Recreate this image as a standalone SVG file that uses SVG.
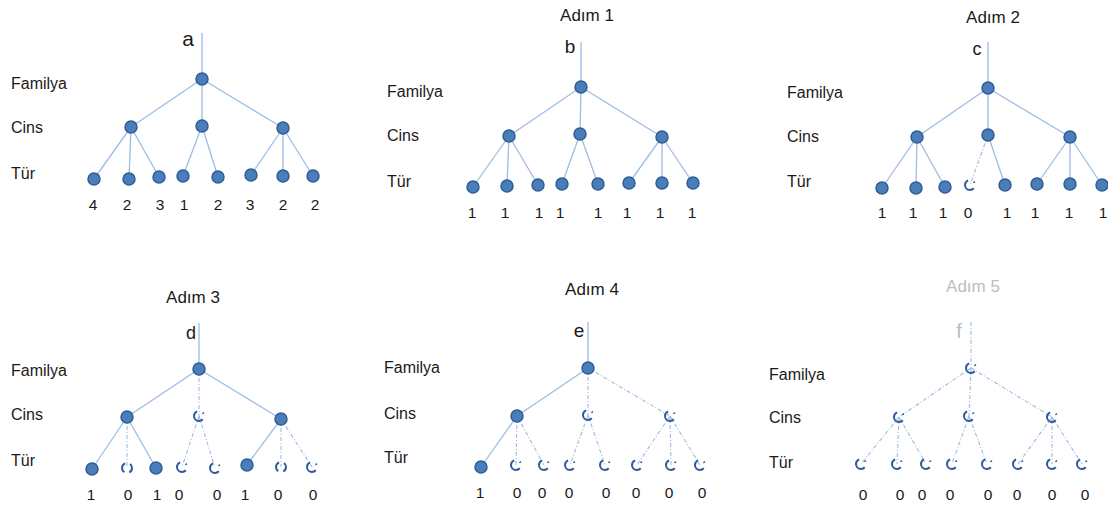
<svg xmlns="http://www.w3.org/2000/svg" width="1108" height="508" viewBox="0 0 1108 508">
<style>
text{font-family:"Liberation Sans",Arial,sans-serif;fill:#1a1a1a}
.lb{font-size:16px}
.num{font-size:15.5px;text-anchor:middle}
.ttl{font-size:17px;text-anchor:middle}
.ltr{text-anchor:middle}
.gray{fill:#bdbdbd}
.e{stroke:#9dbde2;stroke-width:1.3;fill:none}
.ed{stroke:#9ebbe0;stroke-width:1.1;fill:none;stroke-dasharray:4 2 1 2}
.n{fill:#4a7ebb;stroke:#2f5d96;stroke-width:1.5}
.nd{fill:none;stroke:#2e5a9a;stroke-width:2;stroke-dasharray:17.5 6.1 1.3 6.5;stroke-dashoffset:-3.5}
.np{fill:none;stroke:#2e5a9a;stroke-width:2;stroke-dasharray:10.5 5.2;stroke-dashoffset:5.2}
</style>
<rect width="1108" height="508" fill="#ffffff"/>

<!-- Panel a -->
<g id="panel-a">
<text class="lb" x="11" y="89">Familya</text>
<text class="lb" x="11" y="133">Cins</text>
<text class="lb" x="11" y="179">Tür</text>
<text class="ltr" x="188" y="46" font-size="21">a</text>
<g id="a-connectors">
<line class="e" x1="202" y1="33" x2="202" y2="79"/>
<line class="e" x1="202" y1="79" x2="131" y2="127"/>
<line class="e" x1="202" y1="79" x2="202" y2="126"/>
<line class="e" x1="202" y1="79" x2="283" y2="128"/>
<line class="e" x1="131" y1="127" x2="94" y2="179"/>
<line class="e" x1="131" y1="127" x2="129" y2="179"/>
<line class="e" x1="131" y1="127" x2="159" y2="177"/>
<line class="e" x1="202" y1="126" x2="183" y2="176"/>
<line class="e" x1="202" y1="126" x2="218" y2="177"/>
<line class="e" x1="283" y1="128" x2="251" y2="175"/>
<line class="e" x1="283" y1="128" x2="283" y2="176"/>
<line class="e" x1="283" y1="128" x2="313" y2="176"/>
</g>
<g id="a-F"><circle class="n" cx="202" cy="79" r="6"/></g>
<g id="a-C1"><circle class="n" cx="131" cy="127" r="6"/></g>
<g id="a-C2"><circle class="n" cx="202" cy="126" r="6"/></g>
<g id="a-C3"><circle class="n" cx="283" cy="128" r="6"/></g>
<g id="a-T1"><circle class="n" cx="94" cy="179" r="6"/><text class="num" x="93" y="210">4</text></g>
<g id="a-T2"><circle class="n" cx="129" cy="179" r="6"/><text class="num" x="127" y="210">2</text></g>
<g id="a-T3"><circle class="n" cx="159" cy="177" r="6"/><text class="num" x="160" y="210">3</text></g>
<g id="a-T4"><circle class="n" cx="183" cy="176" r="6"/><text class="num" x="184" y="210">1</text></g>
<g id="a-T5"><circle class="n" cx="218" cy="177" r="6"/><text class="num" x="218" y="210">2</text></g>
<g id="a-T6"><circle class="n" cx="251" cy="175" r="6"/><text class="num" x="250" y="210">3</text></g>
<g id="a-T7"><circle class="n" cx="283" cy="176" r="6"/><text class="num" x="283" y="210">2</text></g>
<g id="a-T8"><circle class="n" cx="313" cy="176" r="6"/><text class="num" x="315" y="210">2</text></g>
</g>

<!-- Panel b -->
<g id="panel-b">
<text class="ttl" x="587" y="21">Adım 1</text>
<text class="lb" x="387" y="97">Familya</text>
<text class="lb" x="387" y="141">Cins</text>
<text class="lb" x="387" y="187">Tür</text>
<text class="ltr" x="570" y="53" font-size="19">b</text>
<g id="b-connectors">
<line class="e" x1="581" y1="42" x2="581" y2="87"/>
<line class="e" x1="581" y1="87" x2="509" y2="136"/>
<line class="e" x1="581" y1="87" x2="580" y2="134"/>
<line class="e" x1="581" y1="87" x2="662" y2="137"/>
<line class="e" x1="509" y1="136" x2="473" y2="187"/>
<line class="e" x1="509" y1="136" x2="507" y2="186"/>
<line class="e" x1="509" y1="136" x2="538" y2="185"/>
<line class="e" x1="580" y1="134" x2="562" y2="184"/>
<line class="e" x1="580" y1="134" x2="598" y2="184"/>
<line class="e" x1="662" y1="137" x2="629" y2="183"/>
<line class="e" x1="662" y1="137" x2="662" y2="183"/>
<line class="e" x1="662" y1="137" x2="693" y2="183"/>
</g>
<g id="b-F"><circle class="n" cx="581" cy="87" r="6"/></g>
<g id="b-C1"><circle class="n" cx="509" cy="136" r="6"/></g>
<g id="b-C2"><circle class="n" cx="580" cy="134" r="6"/></g>
<g id="b-C3"><circle class="n" cx="662" cy="137" r="6"/></g>
<g id="b-T1"><circle class="n" cx="473" cy="187" r="6"/><text class="num" x="472" y="218">1</text></g>
<g id="b-T2"><circle class="n" cx="507" cy="186" r="6"/><text class="num" x="505" y="218">1</text></g>
<g id="b-T3"><circle class="n" cx="538" cy="185" r="6"/><text class="num" x="539" y="218">1</text></g>
<g id="b-T4"><circle class="n" cx="562" cy="184" r="6"/><text class="num" x="560" y="218">1</text></g>
<g id="b-T5"><circle class="n" cx="598" cy="184" r="6"/><text class="num" x="598" y="218">1</text></g>
<g id="b-T6"><circle class="n" cx="629" cy="183" r="6"/><text class="num" x="627" y="218">1</text></g>
<g id="b-T7"><circle class="n" cx="662" cy="183" r="6"/><text class="num" x="660" y="218">1</text></g>
<g id="b-T8"><circle class="n" cx="693" cy="183" r="6"/><text class="num" x="692" y="218">1</text></g>
</g>

<!-- Panel c -->
<g id="panel-c">
<text class="ttl" x="993" y="23">Adım 2</text>
<text class="lb" x="787" y="98">Familya</text>
<text class="lb" x="787" y="142">Cins</text>
<text class="lb" x="787" y="187">Tür</text>
<text class="ltr" x="977" y="55" font-size="18">c</text>
<g id="c-connectors">
<line class="e" x1="988" y1="42" x2="988" y2="88"/>
<line class="e" x1="988" y1="88" x2="917" y2="137"/>
<line class="e" x1="988" y1="88" x2="988" y2="135"/>
<line class="e" x1="988" y1="88" x2="1070" y2="137"/>
<line class="e" x1="917" y1="137" x2="882" y2="188"/>
<line class="e" x1="917" y1="137" x2="916" y2="188"/>
<line class="e" x1="917" y1="137" x2="945" y2="187"/>
<line class="ed" x1="988" y1="135" x2="970" y2="185"/>
<line class="e" x1="988" y1="135" x2="1005" y2="185"/>
<line class="e" x1="1070" y1="137" x2="1037" y2="184"/>
<line class="e" x1="1070" y1="137" x2="1070" y2="184"/>
<line class="e" x1="1070" y1="137" x2="1102" y2="185"/>
</g>
<g id="c-F"><circle class="n" cx="988" cy="88" r="6"/></g>
<g id="c-C1"><circle class="n" cx="917" cy="137" r="6"/></g>
<g id="c-C2"><circle class="n" cx="988" cy="135" r="6"/></g>
<g id="c-C3"><circle class="n" cx="1070" cy="137" r="6"/></g>
<g id="c-T1"><circle class="n" cx="882" cy="188" r="6"/><text class="num" x="882" y="218">1</text></g>
<g id="c-T2"><circle class="n" cx="916" cy="188" r="6"/><text class="num" x="913" y="218">1</text></g>
<g id="c-T3"><circle class="n" cx="945" cy="187" r="6"/><text class="num" x="943" y="218">1</text></g>
<g id="c-T4"><circle class="nd" cx="970" cy="185" r="5"/><text class="num" x="968" y="218">0</text></g>
<g id="c-T5"><circle class="n" cx="1005" cy="185" r="6"/><text class="num" x="1007" y="218">1</text></g>
<g id="c-T6"><circle class="n" cx="1037" cy="184" r="6"/><text class="num" x="1035" y="218">1</text></g>
<g id="c-T7"><circle class="n" cx="1070" cy="184" r="6"/><text class="num" x="1069" y="218">1</text></g>
<g id="c-T8"><circle class="n" cx="1102" cy="185" r="6"/><text class="num" x="1103" y="218">1</text></g>
</g>

<!-- Panel d -->
<g id="panel-d">
<text class="ttl" x="193" y="303">Adım 3</text>
<text class="lb" x="11" y="376">Familya</text>
<text class="lb" x="11" y="420">Cins</text>
<text class="lb" x="11" y="466">Tür</text>
<text class="ltr" x="191" y="339" font-size="18">d</text>
<g id="d-connectors">
<line class="e" x1="199" y1="323" x2="199" y2="369"/>
<line class="e" x1="199" y1="369" x2="127" y2="417"/>
<line class="ed" x1="199" y1="369" x2="199" y2="416"/>
<line class="e" x1="199" y1="369" x2="281" y2="419"/>
<line class="e" x1="127" y1="417" x2="92" y2="469"/>
<line class="ed" x1="127" y1="417" x2="127" y2="468"/>
<line class="e" x1="127" y1="417" x2="156" y2="468"/>
<line class="ed" x1="199" y1="416" x2="182" y2="467"/>
<line class="ed" x1="199" y1="416" x2="215" y2="468"/>
<line class="e" x1="281" y1="419" x2="247" y2="465"/>
<line class="ed" x1="281" y1="419" x2="281" y2="467"/>
<line class="ed" x1="281" y1="419" x2="312" y2="467"/>
</g>
<g id="d-F"><circle class="n" cx="199" cy="369" r="6"/></g>
<g id="d-C1"><circle class="n" cx="127" cy="417" r="6"/></g>
<g id="d-C2"><circle class="nd" cx="199" cy="416" r="5"/></g>
<g id="d-C3"><circle class="n" cx="281" cy="419" r="6"/></g>
<g id="d-T1"><circle class="n" cx="92" cy="469" r="6"/><text class="num" x="91" y="500">1</text></g>
<g id="d-T2"><circle class="np" cx="127" cy="468" r="5"/><text class="num" x="128" y="500">0</text></g>
<g id="d-T3"><circle class="n" cx="156" cy="468" r="6"/><text class="num" x="157" y="500">1</text></g>
<g id="d-T4"><circle class="nd" cx="182" cy="467" r="5"/><text class="num" x="179" y="500">0</text></g>
<g id="d-T5"><circle class="nd" cx="215" cy="468" r="5"/><text class="num" x="217" y="500">0</text></g>
<g id="d-T6"><circle class="n" cx="247" cy="465" r="6"/><text class="num" x="245" y="500">1</text></g>
<g id="d-T7"><circle class="np" cx="281" cy="467" r="5"/><text class="num" x="278" y="500">0</text></g>
<g id="d-T8"><circle class="nd" cx="312" cy="467" r="5"/><text class="num" x="313" y="500">0</text></g>
</g>

<!-- Panel e -->
<g id="panel-e">
<text class="ttl" x="592" y="295">Adım 4</text>
<text class="lb" x="384" y="373">Familya</text>
<text class="lb" x="384" y="419">Cins</text>
<text class="lb" x="384" y="463">Tür</text>
<text class="ltr" x="579" y="337" font-size="19">e</text>
<g id="e-connectors">
<line class="e" x1="588" y1="322" x2="588" y2="368"/>
<line class="e" x1="588" y1="368" x2="517" y2="416"/>
<line class="ed" x1="588" y1="368" x2="588" y2="415"/>
<line class="ed" x1="588" y1="368" x2="670" y2="416"/>
<line class="e" x1="517" y1="416" x2="481" y2="467"/>
<line class="ed" x1="517" y1="416" x2="516" y2="465"/>
<line class="ed" x1="517" y1="416" x2="544" y2="465"/>
<line class="ed" x1="588" y1="415" x2="570" y2="465"/>
<line class="ed" x1="588" y1="415" x2="605" y2="465"/>
<line class="ed" x1="670" y1="416" x2="637" y2="465"/>
<line class="ed" x1="670" y1="416" x2="671" y2="465"/>
<line class="ed" x1="670" y1="416" x2="700" y2="465"/>
</g>
<g id="e-F"><circle class="n" cx="588" cy="368" r="6"/></g>
<g id="e-C1"><circle class="n" cx="517" cy="416" r="6"/></g>
<g id="e-C2"><circle class="nd" cx="588" cy="415" r="5"/></g>
<g id="e-C3"><circle class="nd" cx="670" cy="416" r="5"/></g>
<g id="e-T1"><circle class="n" cx="481" cy="467" r="6"/><text class="num" x="480" y="498">1</text></g>
<g id="e-T2"><circle class="nd" cx="516" cy="465" r="5"/><text class="num" x="517" y="498">0</text></g>
<g id="e-T3"><circle class="nd" cx="544" cy="465" r="5"/><text class="num" x="542" y="498">0</text></g>
<g id="e-T4"><circle class="nd" cx="570" cy="465" r="5"/><text class="num" x="569" y="498">0</text></g>
<g id="e-T5"><circle class="nd" cx="605" cy="465" r="5"/><text class="num" x="606" y="498">0</text></g>
<g id="e-T6"><circle class="nd" cx="637" cy="465" r="5"/><text class="num" x="636" y="498">0</text></g>
<g id="e-T7"><circle class="nd" cx="671" cy="465" r="5"/><text class="num" x="669" y="498">0</text></g>
<g id="e-T8"><circle class="nd" cx="700" cy="465" r="5"/><text class="num" x="702" y="498">0</text></g>
</g>

<!-- Panel f -->
<g id="panel-f">
<text class="ttl gray" x="973" y="292">Adım 5</text>
<text class="lb" x="769" y="380">Familya</text>
<text class="lb" x="769" y="423">Cins</text>
<text class="lb" x="769" y="468">Tür</text>
<text class="ltr gray" x="959" y="338" font-size="20">f</text>
<g id="f-connectors">
<line class="ed" x1="971" y1="322" x2="971" y2="368"/>
<line class="ed" x1="971" y1="368" x2="899" y2="417"/>
<line class="ed" x1="971" y1="368" x2="969" y2="416"/>
<line class="ed" x1="971" y1="368" x2="1052" y2="417"/>
<line class="ed" x1="899" y1="417" x2="861" y2="464"/>
<line class="ed" x1="899" y1="417" x2="897" y2="464"/>
<line class="ed" x1="899" y1="417" x2="926" y2="464"/>
<line class="ed" x1="969" y1="416" x2="952" y2="464"/>
<line class="ed" x1="969" y1="416" x2="987" y2="464"/>
<line class="ed" x1="1052" y1="417" x2="1018" y2="464"/>
<line class="ed" x1="1052" y1="417" x2="1052" y2="464"/>
<line class="ed" x1="1052" y1="417" x2="1082" y2="464"/>
</g>
<g id="f-F"><circle class="nd" cx="971" cy="368" r="5"/></g>
<g id="f-C1"><circle class="nd" cx="899" cy="417" r="5"/></g>
<g id="f-C2"><circle class="nd" cx="969" cy="416" r="5"/></g>
<g id="f-C3"><circle class="nd" cx="1052" cy="417" r="5"/></g>
<g id="f-T1"><circle class="nd" cx="861" cy="464" r="5"/><text class="num" x="863" y="500">0</text></g>
<g id="f-T2"><circle class="nd" cx="897" cy="464" r="5"/><text class="num" x="900" y="500">0</text></g>
<g id="f-T3"><circle class="nd" cx="926" cy="464" r="5"/><text class="num" x="922" y="500">0</text></g>
<g id="f-T4"><circle class="nd" cx="952" cy="464" r="5"/><text class="num" x="950" y="500">0</text></g>
<g id="f-T5"><circle class="nd" cx="987" cy="464" r="5"/><text class="num" x="988" y="500">0</text></g>
<g id="f-T6"><circle class="nd" cx="1018" cy="464" r="5"/><text class="num" x="1017" y="500">0</text></g>
<g id="f-T7"><circle class="nd" cx="1052" cy="464" r="5"/><text class="num" x="1052" y="500">0</text></g>
<g id="f-T8"><circle class="nd" cx="1082" cy="464" r="5"/><text class="num" x="1085" y="500">0</text></g>
</g>
</svg>
